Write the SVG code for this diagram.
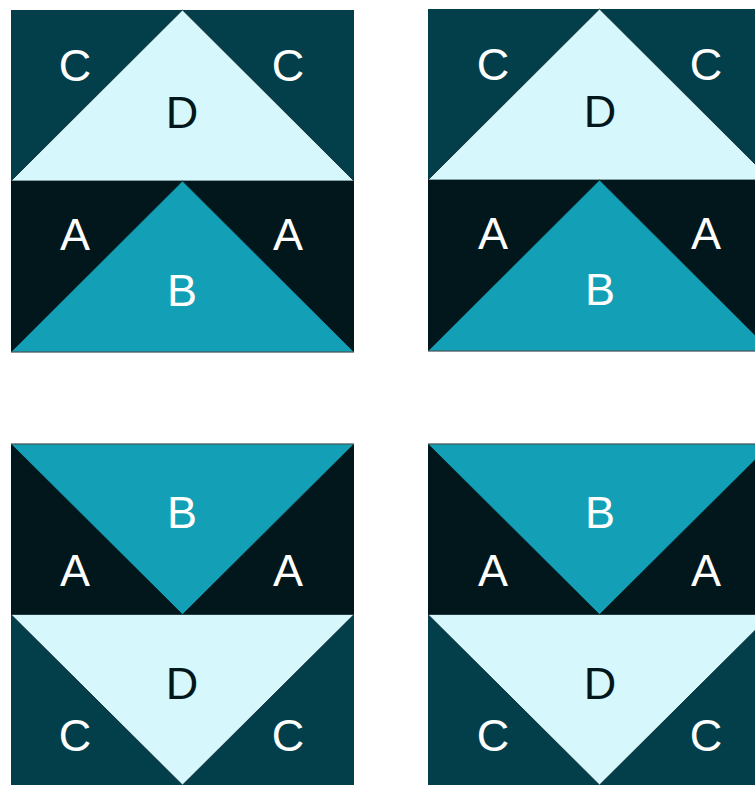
<svg xmlns="http://www.w3.org/2000/svg" width="755" height="785" viewBox="0 0 755 785">
<style>
.dk{fill:#023f4a}
.bk{fill:#02171b}
.lt{fill:#d6f7fc;stroke:#0a1f24;stroke-width:0.8}
.tl{fill:#139fb5;stroke:#0a1f24;stroke-width:0.8}
.edge{fill:none;stroke:#6b7b7e;stroke-width:0.8}
text{font-family:"Liberation Sans",Arial,sans-serif;font-size:45px;text-anchor:middle}
.w{fill:#ffffff}
.d{fill:#02171b}
</style>
<rect width="755" height="785" fill="#ffffff"/>
<g id="block1">
<rect class="dk" x="11" y="10" width="343" height="171"/>
<polygon class="lt" points="182.5,10 354,181 11,181"/>
<rect class="bk" x="11" y="181" width="343" height="171"/>
<polygon class="tl" points="182.5,181 354,352 11,352"/>
<line class="edge" x1="11" y1="352" x2="354" y2="352"/>
<text class="w" x="75" y="81">C</text>
<text class="w" x="288" y="81">C</text>
<text class="d" x="182" y="128">D</text>
<text class="w" x="75" y="250">A</text>
<text class="w" x="288" y="250">A</text>
<text class="w" x="182" y="306">B</text>
</g>
<g id="block2">
<rect class="dk" x="428" y="9" width="343" height="171"/>
<polygon class="lt" points="599.5,9 771,180 428,180"/>
<rect class="bk" x="428" y="180" width="343" height="171"/>
<polygon class="tl" points="599.5,180 771,351 428,351"/>
<line class="edge" x1="428" y1="351" x2="771" y2="351"/>
<text class="w" x="493" y="80">C</text>
<text class="w" x="706" y="80">C</text>
<text class="d" x="600" y="127">D</text>
<text class="w" x="493" y="249">A</text>
<text class="w" x="706" y="249">A</text>
<text class="w" x="600" y="305">B</text>
</g>
<g id="block3">
<rect class="bk" x="11" y="444" width="343" height="170.5"/>
<polygon class="tl" points="11,444 354,444 182.5,614.5"/>
<rect class="dk" x="11" y="614.5" width="343" height="170.5"/>
<polygon class="lt" points="11,614.5 354,614.5 182.5,785"/>
<line class="edge" x1="11" y1="444" x2="354" y2="444"/>
<text class="w" x="182" y="528">B</text>
<text class="w" x="75" y="586">A</text>
<text class="w" x="288" y="586">A</text>
<text class="d" x="182" y="699">D</text>
<text class="w" x="75" y="751">C</text>
<text class="w" x="288" y="751">C</text>
</g>
<g id="block4">
<rect class="bk" x="428" y="444" width="343" height="170.5"/>
<polygon class="tl" points="428,444 771,444 599.5,614.5"/>
<rect class="dk" x="428" y="614.5" width="343" height="170.5"/>
<polygon class="lt" points="428,614.5 771,614.5 599.5,785"/>
<line class="edge" x1="428" y1="444" x2="771" y2="444"/>
<text class="w" x="600" y="528">B</text>
<text class="w" x="493" y="586">A</text>
<text class="w" x="706" y="586">A</text>
<text class="d" x="600" y="699">D</text>
<text class="w" x="493" y="751">C</text>
<text class="w" x="706" y="751">C</text>
</g>
<g id="connectors"></g>
</svg>
